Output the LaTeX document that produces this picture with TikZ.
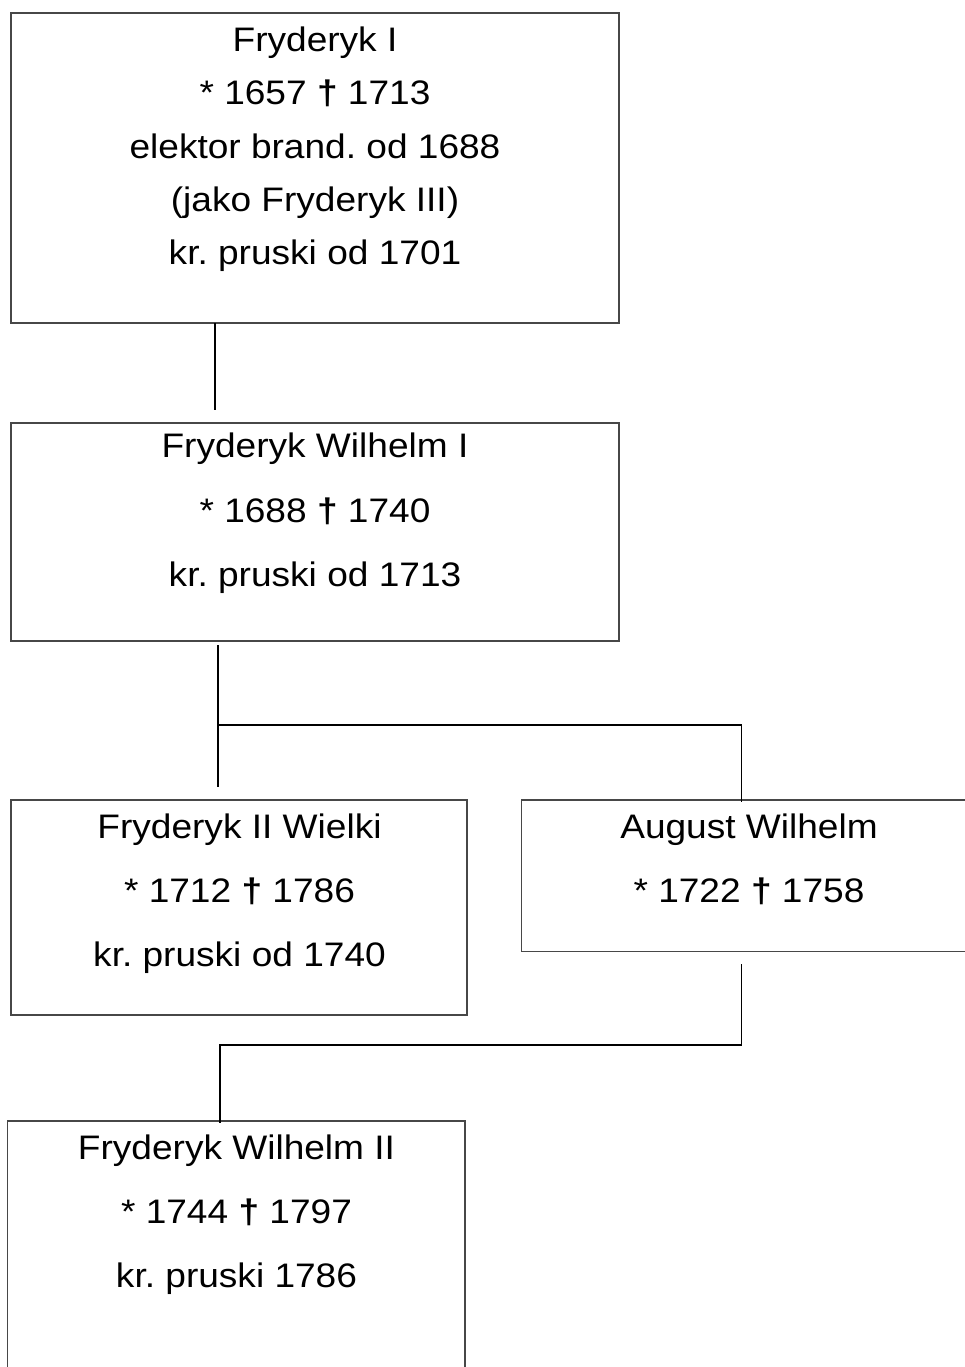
\documentclass[tikz,border=0pt]{standalone}
\usepackage{fontspec}
\setmainfont{Liberation Sans}[FakeStretch=1.09]
\frenchspacing
\newcommand{\dg}{\textbf{†}}
\begin{document}
\begin{tikzpicture}[x=1pt,y=-1pt,
  box/.style={draw=black!72,line width=1.4pt,inner sep=0pt,rectangle},
  txt/.style={anchor=base,inner sep=0pt,font=\fontsize{34}{40}\selectfont},
  conn/.style={draw=black,line width=1.8pt}]
\useasboundingbox (0,0) rectangle (965,1367);
\clip (0,0) rectangle (965,1367);
% boxes
\node[box,minimum width=608pt,minimum height=310pt] (b1) at (315,168) {};
\node[box,minimum width=608pt,minimum height=218pt] (b2) at (315,532) {};
\node[box,minimum width=456pt,minimum height=215pt] (b3) at (239,907.5) {};
\node[box,minimum width=455.5pt,minimum height=151.5pt] (b4) at (749.25,875.75) {};
\node[box,minimum width=457.5pt,minimum height=299pt] (b5) at (236.25,1270.5) {};
% texts
\node[txt] (t1a) at (315,51.7) {Fryderyk I};
\node[txt] (t1b) at (315,104.9) {* 1657 \dg{} 1713};
\node[txt] (t1c) at (315,158.2) {elektor brand. od 1688};
\node[txt] (t1d) at (315,211.4) {(jako Fryderyk III)};
\node[txt] (t1e) at (315,264.7) {kr. pruski od 1701};
\node[txt] (t2a) at (315,457.3) {Fryderyk Wilhelm I};
\node[txt] (t2b) at (315,522) {* 1688 \dg{} 1740};
\node[txt] (t2c) at (315,586.5) {kr. pruski od 1713};
\node[txt] (t3a) at (239.5,838) {Fryderyk II Wielki};
\node[txt] (t3b) at (239.5,902) {* 1712 \dg{} 1786};
\node[txt] (t3c) at (239.5,966.5) {kr. pruski od 1740};
\node[txt] (t4a) at (749,838.5) {August Wilhelm};
\node[txt] (t4b) at (749,902) {* 1722 \dg{} 1758};
\node[txt] (t5a) at (236.5,1159) {Fryderyk Wilhelm II};
\node[txt] (t5b) at (236.5,1223.5) {* 1744 \dg{} 1797};
\node[txt] (t5c) at (236.5,1287.5) {kr. pruski 1786};
% connector coordinates
\coordinate (c1a) at (215,323);
\coordinate (c1b) at (215,410);
\coordinate (c2a) at (218.3,645);
\coordinate (c2b) at (218.3,787);
\coordinate (c2j) at (218.3,725);
\coordinate (c2e) at (741.4,802);
\coordinate (c3a) at (741.4,964);
\coordinate (c3j) at (741.4,1045);
\coordinate (c3e) at (219.8,1122.7);
% connectors
\draw[conn] (c1a) -- (c1b);
\draw[conn] (c2a) -- (c2b);
\draw[conn] (c2j) -| (c2e);
\draw[conn] (c3a) -- (c3j) -| (c3e);
\end{tikzpicture}
\end{document}
